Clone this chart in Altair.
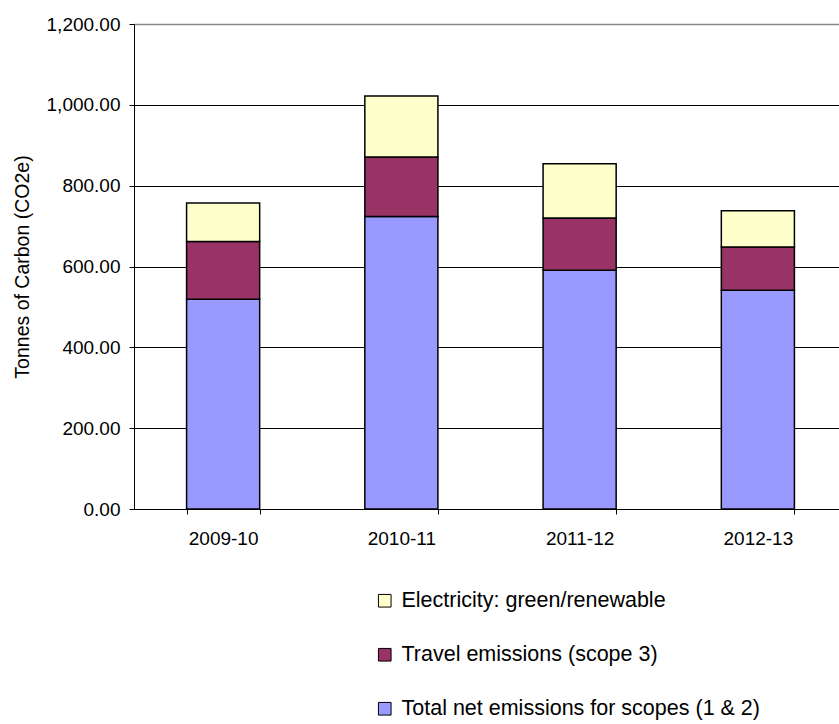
import altair as alt
import pandas as pd

years = ["2009-10", "2010-11", "2011-12", "2012-13"]
total_net = [519, 724, 591, 541]
travel = [143, 147, 129, 107]
electricity = [95, 151, 134, 90]

series = [
    "Total net emissions for scopes (1 & 2)",
    "Travel emissions (scope 3)",
    "Electricity: green/renewable",
]
colors = ["#9999FF", "#993366", "#FFFFCC"]

rows = []
for i, y in enumerate(years):
    for k, (name, vals) in enumerate(zip(series, [total_net, travel, electricity])):
        rows.append({"year": y, "series": name, "value": vals[i], "order": k})
df = pd.DataFrame(rows)

font = "Liberation Sans"

bars = alt.Chart(df).mark_bar(stroke="black", strokeWidth=1.5).encode(
    x=alt.X("year:N", sort=years, title=None,
            scale=alt.Scale(paddingInner=0.59, paddingOuter=0.295, range=[0, 713]),
            axis=alt.Axis(labelAngle=0, labelFontSize=19, labelFont=font, labelColor="black",
                          tickBand="extent", tickSize=5, tickColor="black", domainColor="black",
                          labelPadding=15, grid=False)),
    y=alt.Y("value:Q", stack="zero", title="Tonnes of Carbon (CO2e)",
            scale=alt.Scale(domain=[0, 1200], nice=False),
            axis=alt.Axis(values=[0, 200, 400, 600, 800, 1000, 1200], format=",.2f",
                          labelFontSize=19, labelFont=font, labelColor="black",
                          titleFontSize=19.5, titleFont=font, titleFontWeight="normal", titleColor="black",
                          tickSize=5, tickColor="black", domainColor="black",
                          labelPadding=9, titlePadding=14,
                          gridColor=alt.condition("datum.value == 1200", alt.value("#888888"), alt.value("black")),
                          gridWidth=alt.condition("datum.value == 1200", alt.value(1.5), alt.value(1)))),
    color=alt.Color("series:N", sort=list(reversed(series)),
                    scale=alt.Scale(domain=list(reversed(series)), range=list(reversed(colors))),
                    legend=alt.Legend(title=None, orient="none", legendX=240, legendY=566,
                                      symbolType="square", symbolSize=160, symbolStrokeColor="black",
                                      symbolStrokeWidth=1, labelFontSize=21.5, labelFont=font,
                                      labelColor="black", rowPadding=31, labelOffset=6, labelLimit=0)),
    order=alt.Order("order:Q"),
)

chart = bars.properties(
    width=704, height=485,
    autosize=alt.AutoSizeParams(type="none"),
    padding={"left": 134, "top": 24, "right": 1, "bottom": 215},
).configure_view(stroke=None).configure_axis(domainWidth=1)

chart.save("out.html", embed_options={"renderer": "svg", "actions": False})
